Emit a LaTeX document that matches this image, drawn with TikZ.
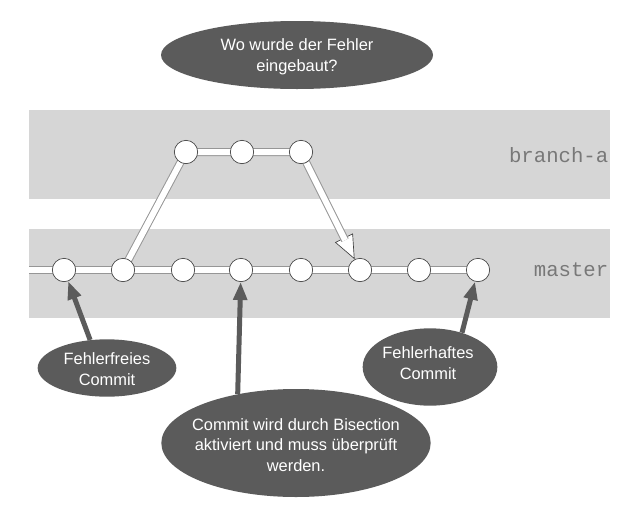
\documentclass[tikz,border=0pt]{standalone}
\usepackage{fontspec}
\newfontfamily\blobfont{Liberation Sans}
\newfontfamily\reffont{Liberation Mono}
\usepackage{xcolor}
\definecolor{gitband}{RGB}{214,214,214}
\definecolor{gitdark}{RGB}{91,91,91}
\definecolor{gitedge}{RGB}{150,150,150}
\definecolor{gitlabel}{RGB}{120,120,120}
\usepackage{tikz}
\usetikzlibrary{arrows.meta, shapes.geometric, backgrounds}

\tikzset{
  commit/.style={circle, draw=black!75, fill=white, line width=0.5pt, minimum size=17.5pt, inner sep=0pt},
  branchline/.style={draw=gitedge, line width=0.75pt, double=white, double distance=4.5pt},
  mergehead/.style={draw=black!75, line width=0.5pt, -{Triangle[fill=white, length=18pt, width=15pt]}},
  blob/.style={ellipse, fill=gitdark, inner sep=0pt},
  blobtext/.style={font=\blobfont\fontsize{12.3}{15.6}\selectfont, text=white, align=center},
  pointer/.style={draw=gitdark, line width=3.75pt, -{Triangle[length=13.5pt, width=10pt]}},
  reflabel/.style={font=\reffont\fontsize{15.5}{18}\selectfont, text=gitlabel, anchor=east},
}

\begin{document}
\begin{tikzpicture}[x=0.75pt, y=-0.75pt]
      \useasboundingbox (0,0) rectangle (639,518);

      % Branch labels
      \node[reflabel] (lbranch) at (613,155) {branch-a};
      \node[reflabel] (lmaster) at (613,270) {master};

      % Commits on master
      \foreach \i/\x in {1/64,2/123,3/183,4/241,5/301,6/360,7/419,8/478}
        \node[commit] (m\i) at (\x,270) {};
      \coordinate (start) at (29,270);

      % Commits on branch-a
      \foreach \i/\x in {1/186,2/242,3/301}
        \node[commit] (b\i) at (\x,152) {};

      % Bands and history lines
      \begin{scope}[on background layer]
        \fill[gitband] (29,110) rectangle (610,199);
        \fill[gitband] (29,229) rectangle (610,318);
        \draw[branchline] (start) -- (m1.center) -- (m2.center) -- (m3.center) -- (m4.center)
          -- (m5.center) -- (m6.center) -- (m7.center) -- (m8.center);
        \draw[branchline] (m2.center) -- (b1.center) -- (b2.center) -- (b3.center);
        \draw[mergehead] (b3) -- (m6);
        \draw[branchline, shorten >=16pt] (b3) -- (m6);
      \end{scope}

      % Callouts
      \node[blob, minimum width=204pt, minimum height=51pt] (question) at (297,55) {};
      \node[blobtext] (question text) at (297,57) {Wo wurde der Fehler\\eingebaut?};

      \node[blob, minimum width=104pt, minimum height=43pt] (good) at (107,368) {};
      \node[blobtext] (good text) at (107,369) {Fehlerfreies\\Commit};

      \node[blob, minimum width=202pt, minimum height=81pt] (bisect) at (296,443) {};
      \node[blobtext] (bisect text) at (296,445) {Commit wird durch Bisection\\aktiviert und muss überprüft\\werden.};

      \node[blob, minimum width=101pt, minimum height=58pt] (bad) at (430,367) {};
      \node[blobtext] (bad text) at (428,363) {Fehlerhaftes\\Commit};

      % Pointers
      \draw[pointer] (good.121) -- (m1);
      \draw[pointer] (bisect.140) -- (m4);
      \draw[pointer] (bad.47) -- (m8);
    \end{tikzpicture}
\end{document}
